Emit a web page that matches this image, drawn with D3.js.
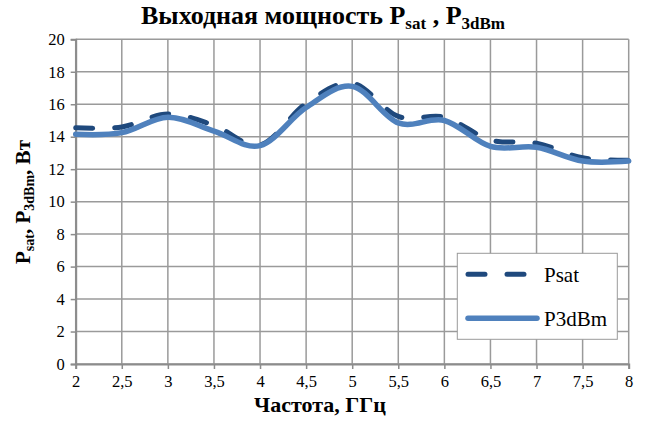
<!DOCTYPE html>
<html lang="ru">
  <head>
    <meta charset="utf-8">
    <title>Выходная мощность</title>
    <script src="https://cdnjs.cloudflare.com/ajax/libs/d3/7.8.5/d3.min.js"></script>
    <style type="text/css">
      body { margin: 0; background: #fff; }
      text { font-family: "Liberation Serif", "DejaVu Serif", serif; fill: #000; }
    </style>
  </head>
  <body>
    <script type="text/javascript">

    // data
    var freq = [2, 2.5, 3, 3.5, 4, 4.5, 5, 5.5, 6, 6.5, 7, 7.5, 8];
    var psat = [14.55, 14.6, 15.4, 14.7, 13.5, 16.05, 17.3, 15.25, 15.2, 13.8, 13.6, 12.7, 12.55];
    var p3dbm = [14.15, 14.25, 15.2, 14.35, 13.45, 15.8, 17.1, 14.85, 15.0, 13.4, 13.35, 12.5, 12.5];
    var xTicks = [2, 2.5, 3, 3.5, 4, 4.5, 5, 5.5, 6, 6.5, 7, 7.5, 8];
    var yTicks = [0, 2, 4, 6, 8, 10, 12, 14, 16, 18, 20];

    var w = 646;
    var h = 421;
    var pL = 75.7, pR = 628.7, pT = 39.3, pB = 364;

    var svg = d3.select("body")
                .append("svg")
                .attr("width", w)
                .attr("height", h);

    var x = d3.scaleLinear().domain([2, 8]).range([pL, pR]);
    var y = d3.scaleLinear().domain([0, 20]).range([pB, pT]);

    //grid
    svg.append("g")
       .selectAll("line")
       .data(yTicks)
       .enter()
       .append("line")
       .attr("x1", pL).attr("x2", pR)
       .attr("y1", function(d) { return y(d); })
       .attr("y2", function(d) { return y(d); })
       .attr("stroke", "#9a9a9a")
       .attr("stroke-width", 1.5);

    svg.append("g")
       .selectAll("line")
       .data(xTicks)
       .enter()
       .append("line")
       .attr("y1", pT).attr("y2", pB)
       .attr("x1", function(d) { return x(d); })
       .attr("x2", function(d) { return x(d); })
       .attr("stroke", "#9a9a9a")
       .attr("stroke-width", 1.5);

    //axes
    var fmt = function(d) { return String(d).replace(".", ","); };

    var xAxis = svg.append("g")
       .attr("transform", "translate(0," + pB + ")")
       .call(d3.axisBottom(x).tickValues(xTicks).tickFormat(fmt).tickSize(5).tickPadding(6));
    var yAxis = svg.append("g")
       .attr("transform", "translate(" + pL + ",0)")
       .call(d3.axisLeft(y).tickValues(yTicks).tickSize(5).tickPadding(6));

    [xAxis, yAxis].forEach(function(a) {
      a.select(".domain").attr("stroke", "#8c8c8c").attr("stroke-width", 2);
      a.selectAll(".tick line").attr("stroke", "#8c8c8c").attr("stroke-width", 1.5);
      a.selectAll("text").attr("font-family", "Liberation Serif").attr("font-size", "16.5px").attr("fill", "#000");
    });

    //lines
    var line = function(vals) {
      return d3.line()
        .x(function(d, i) { return x(freq[i]); })
        .y(function(d) { return y(d); })
        .curve(d3.curveCatmullRom.alpha(0))(vals);
    };

    svg.append("path")
       .attr("d", line(psat))
       .attr("fill", "none")
       .attr("stroke", "#1f497d")
       .attr("stroke-width", 5)
       .attr("stroke-linecap", "round")
       .attr("stroke-dasharray", "17,22");

    svg.append("path")
       .attr("d", line(p3dbm))
       .attr("fill", "none")
       .attr("stroke", "#4f81bd")
       .attr("stroke-width", 5.5)
       .attr("stroke-linecap", "round");

    //legend
    var lg = svg.append("g");
    lg.append("rect")
      .attr("x", 457.3).attr("y", 253.3)
      .attr("width", 160).attr("height", 86)
      .attr("fill", "#fff")
      .attr("stroke", "#9a9a9a")
      .attr("stroke-width", 1);
    lg.append("line")
      .attr("x1", 468).attr("x2", 528).attr("y1", 274.3).attr("y2", 274.3)
      .attr("stroke", "#1f497d").attr("stroke-width", 5)
      .attr("stroke-linecap", "round").attr("stroke-dasharray", "17,22");
    lg.append("text").attr("x", 544).attr("y", 281.5).attr("font-size", "21px").text("Psat");
    lg.append("line")
      .attr("x1", 468).attr("x2", 537).attr("y1", 318.3).attr("y2", 318.3)
      .attr("stroke", "#4f81bd").attr("stroke-width", 5.5)
      .attr("stroke-linecap", "round");
    lg.append("text").attr("x", 544).attr("y", 325.5).attr("font-size", "21px").text("P3dBm");

    //titles
    var title = svg.append("text")
       .attr("x", 323).attr("y", 24)
       .attr("text-anchor", "middle")
       .attr("font-size", "26px")
       .attr("font-weight", "bold");
    title.append("tspan").text("Выходная мощность P");
    title.append("tspan").attr("font-size", "17px").attr("dy", 5).text("sat");
    title.append("tspan").attr("dy", -5).text(" , P");
    title.append("tspan").attr("font-size", "17px").attr("dy", 5).text("3dBm");

    svg.append("text")
       .attr("x", 320).attr("y", 412)
       .attr("text-anchor", "middle")
       .attr("font-size", "22px")
       .attr("font-weight", "bold")
       .text("Частота, ГГц");

    var yt = svg.append("text")
       .attr("transform", "translate(30,202) rotate(-90)")
       .attr("text-anchor", "middle")
       .attr("font-size", "21px")
       .attr("font-weight", "bold");
    yt.append("tspan").text("P");
    yt.append("tspan").attr("font-size", "14px").attr("dy", 4).text("sat");
    yt.append("tspan").attr("dy", -4).text(", P");
    yt.append("tspan").attr("font-size", "14px").attr("dy", 4).text("3dBm");
    yt.append("tspan").attr("dy", -4).text(", Вт");

    </script>
  </body>
</html>
